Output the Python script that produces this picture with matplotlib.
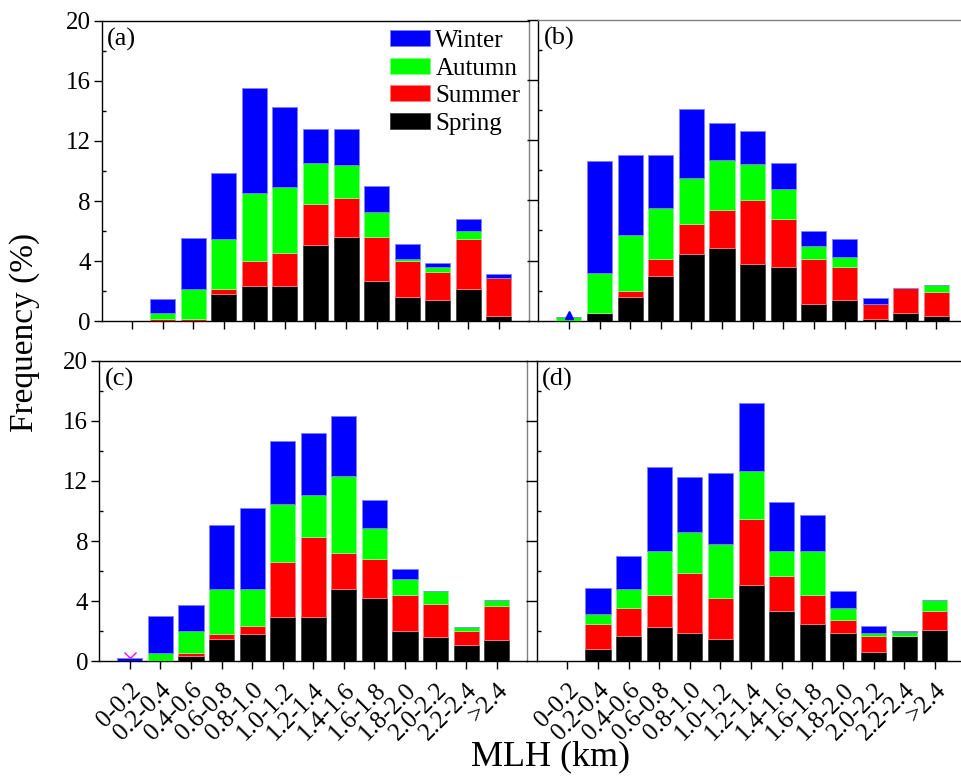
import matplotlib
matplotlib.use("Agg")
import matplotlib.pyplot as plt
import numpy as np
from matplotlib.ticker import MultipleLocator

plt.rcParams['font.family'] = ['Liberation Serif', 'DejaVu Serif']

categories = ['0-0.2', '0.2-0.4', '0.4-0.6', '0.6-0.8', '0.8-1.0', '1.0-1.2', '1.2-1.4',
              '1.4-1.6', '1.6-1.8', '1.8-2.0', '2.0-2.2', '2.2-2.4', '>2.4']
seasons = ['Spring', 'Summer', 'Autumn', 'Winter']
season_colors = ['#000000', '#ff0000', '#00ff00', '#0000ff']
edge_colors = ['#404040', '#ff8080', '#80ff80', '#8080ff']

# panel (a)
a_spring = [0, 0, 0, 1.78, 2.36, 2.36, 5.09, 5.60, 2.67, 1.62, 1.40, 2.13, 0.33]
a_summer = [0, 0.13, 0.13, 0.35, 1.62, 2.17, 2.73, 2.58, 2.93, 2.36, 1.84, 3.31, 2.56]
a_autumn = [0, 0.38, 2.00, 3.31, 4.55, 4.38, 2.71, 2.22, 1.67, 0.15, 0.36, 0.56, 0]
a_winter = [0, 0.96, 3.38, 4.45, 7.03, 5.36, 2.29, 2.42, 1.71, 0.98, 0.24, 0.78, 0.24]
# panel (b)
b_spring = [0, 0.49, 1.58, 2.98, 4.45, 4.81, 3.74, 3.56, 1.07, 1.38, 0.13, 0.51, 0.33]
b_summer = [0, 0, 0.36, 1.14, 2.01, 2.54, 4.32, 3.23, 3.03, 2.18, 0.94, 1.67, 1.59]
b_autumn = [0.24, 2.69, 3.78, 3.39, 3.01, 3.38, 2.34, 1.99, 0.89, 0.69, 0, 0, 0.44]
b_winter = [0, 7.47, 5.28, 3.49, 4.61, 2.43, 2.21, 1.69, 0.98, 1.18, 0.40, 0, 0]
# panel (c)
c_spring = [0, 0, 0.33, 1.47, 1.80, 2.96, 2.96, 4.78, 4.22, 2.00, 1.62, 1.07, 1.42]
c_summer = [0, 0, 0.18, 0.33, 0.56, 3.66, 5.31, 2.40, 2.58, 2.38, 2.20, 0.93, 2.22]
c_autumn = [0, 0.51, 1.49, 2.98, 2.42, 3.85, 2.77, 5.15, 2.04, 1.11, 0.82, 0.24, 0.45]
c_winter = [0.20, 2.49, 1.71, 4.29, 5.42, 4.17, 4.16, 3.98, 1.92, 0.64, 0, 0, 0]
# panel (d)
d_spring = [0, 0.80, 1.69, 2.29, 1.87, 1.44, 5.04, 3.36, 2.49, 1.87, 0.62, 1.69, 2.09]
d_summer = [0, 1.69, 1.87, 2.11, 4.00, 2.78, 4.43, 2.33, 1.91, 0.84, 1.07, 0, 1.24]
d_autumn = [0, 0.64, 1.24, 2.93, 2.75, 3.58, 3.17, 1.64, 2.93, 0.85, 0.18, 0.24, 0.74]
d_winter = [0, 1.76, 2.20, 5.60, 3.67, 4.71, 4.56, 3.27, 2.43, 1.11, 0.46, 0.04, 0]

panels = {
    '(a)': [a_spring, a_summer, a_autumn, a_winter],
    '(b)': [b_spring, b_summer, b_autumn, b_winter],
    '(c)': [c_spring, c_summer, c_autumn, c_winter],
    '(d)': [d_spring, d_summer, d_autumn, d_winter],
}

# isolated symbols at the first class
marker_b = (0, 0.35)
marker_c = (0, 0.20)

W, H = 961, 780
fig = plt.figure(figsize=(W / 100, H / 100), dpi=100)

def box(l, r, t, b):
    return [l / W, 1 - b / H, (r - l) / W, (b - t) / H]

positions = {
    '(a)': box(101.7, 529.3, 21, 321),
    '(b)': box(538.3, 967.0, 20.5, 320.5),
    '(c)': box(99.3, 527.3, 361, 661),
    '(d)': box(536.7, 965.5, 361, 661),
}

x = np.arange(len(categories))
axes = {}
for name, series in panels.items():
    ax = fig.add_axes(positions[name])
    axes[name] = ax
    bottom = np.zeros(len(categories))
    for vals, col, ec, lab in zip(series, season_colors, edge_colors, seasons):
        vals = np.array(vals, dtype=float)
        ax.bar(x, vals, width=0.82, bottom=bottom, color=col, edgecolor=ec,
               linewidth=0.6, label=lab, zorder=3)
        bottom = bottom + vals
    ax.set_xlim(-1, 13)
    ax.set_ylim(0, 20)
    ax.set_xticks(x)
    ax.yaxis.set_major_locator(MultipleLocator(4))
    ax.yaxis.set_minor_locator(MultipleLocator(2))
    ax.tick_params(axis='y', which='major', direction='out', length=6, width=1, labelsize=18, pad=2)
    ax.tick_params(axis='y', which='minor', direction='in', length=3, width=1)
    ax.tick_params(axis='x', which='major', direction='out', length=6, width=1, labelsize=18)
    for s in ax.spines.values():
        s.set_linewidth(1.0)
    ax.text(0.013, 0.978, name, transform=ax.transAxes, ha='left', va='top', fontsize=19)
    if name in ('(a)', '(c)'):
        ax.spines['right'].set_color('#808080')
    if name == '(b)':
        ax.spines['top'].set_color('#808080')
        ax.spines['top'].set_linestyle((0, (6, 1)))
    if name in ('(b)', '(d)'):
        ax.tick_params(axis='y', which='major', length=8)
        ax.set_yticklabels([])
    if name in ('(a)', '(b)'):
        ax.set_xticklabels([])
    else:
        ax.set_xticklabels(categories, rotation=45, ha='right', rotation_mode='anchor')
        ax.tick_params(axis='x', pad=7)

axes['(b)'].plot([marker_b[0]], [marker_b[1]], marker='^', color='#0000ff',
                 markersize=6, linestyle='none', zorder=4)
axes['(c)'].plot([marker_c[0]], [marker_c[1]], marker='x', color='#ff00ff',
                 markersize=9, markeredgewidth=1, linestyle='none', zorder=2)

ax = axes['(a)']
h, l = ax.get_legend_handles_labels()
ax.legend(h[::-1], l[::-1], loc='upper right', bbox_to_anchor=(1.02, 1.028),
          frameon=False, fontsize=18, handlelength=1.6, handleheight=0.6,
          handletextpad=0.2, labelspacing=0.22, borderaxespad=0.3)

fig.text(25 / W, 1 - 332 / H, 'Frequency (%)', rotation=90, ha='center', va='center', fontsize=24)
fig.text(551 / W, 1 - 757 / H, 'MLH (km)', ha='center', va='center', fontsize=26)

fig.savefig('out.png', dpi=100)
